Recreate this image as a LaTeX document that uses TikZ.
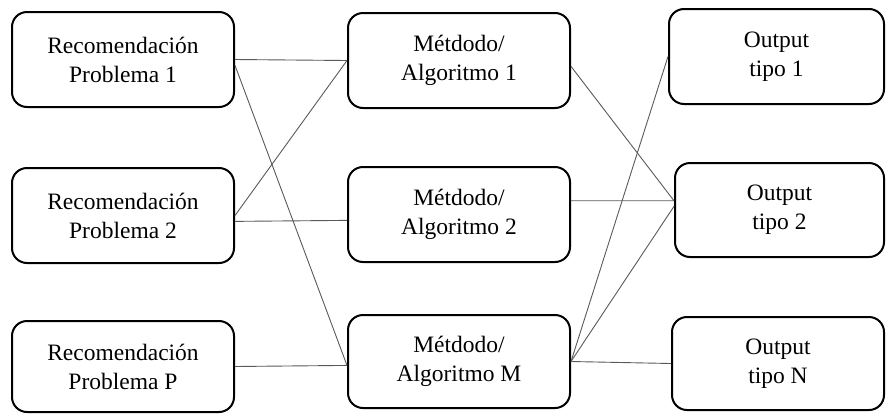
\documentclass[tikz,border=0pt]{standalone}
\usepackage{fontspec}
\setmainfont{Liberation Serif}
\begin{document}
\begin{tikzpicture}[x=1pt,y=-1pt]
\tikzstyle{caja}=[draw,line width=2pt,rounded corners=15pt,align=center,
  inner sep=0pt,font=\fontsize{23.5}{29}\selectfont];
\tikzstyle{linea}=[line width=0.9pt,color=black!65];
\useasboundingbox (0,0) rectangle (886,413);

  \node[caja,minimum width=222pt,minimum height=95pt] (p1) at (123,59.5) {Recomendación\\Problema 1};
  \node[caja,minimum width=222pt,minimum height=95pt] (p2) at (123,215.5) {Recomendación\\Problema 2};
  \node[caja,minimum width=222pt,minimum height=91pt] (pp) at (123,366.5) {Recomendación\\Problema P};

  \node[caja,minimum width=222pt,minimum height=95pt] (m1) at (459,60.5) {Métdodo/\\Algoritmo 1};
  \node[caja,minimum width=222pt,minimum height=95pt] (m2) at (459,214.5) {Métdodo/\\Algoritmo 2};
  \node[caja,minimum width=222pt,minimum height=93pt] (mm) at (459,361.5) {Métdodo/\\Algoritmo M};

  \node[caja,minimum width=215pt,minimum height=95pt] (o1) at (776.5,56.5) {Output\\tipo 1};
  \node[caja,minimum width=209pt,minimum height=94pt] (o2) at (779.5,210) {Output\\tipo 2};
  \node[caja,minimum width=212pt,minimum height=93pt] (on) at (778,363.5) {Output\\tipo N};

\foreach \from/\to in {p1.east/m1.west, p1.-3/mm.182, p2.east/m1.west, p2.-3/m2.183,
  pp.east/mm.182, m1.-3/o2.175, m2.7/o2.175, mm.east/o1.west, mm.east/o2.178, mm.east/on.west}
\draw [linea] (\from) -- (\to);

\end{tikzpicture}
\end{document}
